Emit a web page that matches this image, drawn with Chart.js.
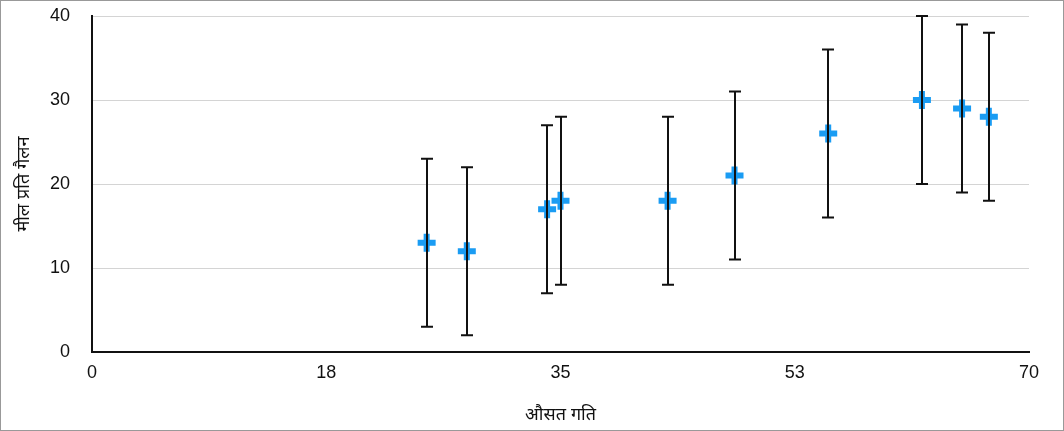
<!DOCTYPE html>
<html>
<head>
<meta charset="utf-8">
<script src="https://cdn.jsdelivr.net/npm/chart.js@4"></script>
<style>
  html, body { margin: 0; padding: 0; background: #fff; }
  #wrap { width: 1064px; height: 431px; box-sizing: border-box; border: 1px solid #999; }
  canvas { display: block; }
</style>
</head>
<body>
<div id="wrap"><canvas id="chart" width="1062" height="429"></canvas></div>
<script>
// Velocidad media vs millas por galón, con barras de error ±10
const speeds = [25, 28, 34, 35, 43, 48, 55, 62, 65, 67];
const mpg = [13, 12, 17, 18, 18, 21, 26, 30, 29, 28];
const errLow = [3, 2, 7, 8, 8, 11, 16, 20, 19, 18];
const errHigh = [23, 22, 27, 28, 28, 31, 36, 40, 39, 38];
const xTicks = [0, 17.5, 35, 52.5, 70];
const yTicks = [0, 10, 20, 30, 40];

const FONT = "'Liberation Sans', Arial, 'Noto Sans', sans-serif";

// barras de error verticales, dibujadas encima de los marcadores
const errorBars = {
  id: 'errorBars',
  afterDatasetsDraw(chart) {
    const { ctx, scales: { x, y } } = chart;
    ctx.save();
    ctx.strokeStyle = '#111';
    ctx.lineWidth = 2;
    speeds.forEach((s, i) => {
      const px = Math.round(x.getPixelForValue(s));
      const top = y.getPixelForValue(errHigh[i]);
      const bot = y.getPixelForValue(errLow[i]);
      ctx.beginPath();
      ctx.moveTo(px, top); ctx.lineTo(px, bot);
      ctx.moveTo(px - 6, top); ctx.lineTo(px + 6, top);
      ctx.moveTo(px - 6, bot); ctx.lineTo(px + 6, bot);
      ctx.stroke();
    });
    ctx.restore();
  },
};

new Chart(document.getElementById('chart'), {
  type: 'scatter',
  data: {
    datasets: [{
      data: speeds.map((s, i) => ({ x: s, y: mpg[i] })),
      pointStyle: 'cross',
      radius: 9,
      hoverRadius: 9,
      borderWidth: 6,
      borderColor: '#1a9cf3',
      backgroundColor: '#1a9cf3',
    }],
  },
  options: {
    responsive: false,
    animation: false,
    layout: { padding: { top: 14, right: 34, left: 0, bottom: 0 } },
    plugins: { legend: { display: false }, tooltip: { enabled: false } },
    scales: {
      x: {
        type: 'linear', min: 0, max: 70,
        afterBuildTicks: (s) => { s.ticks = xTicks.map(v => ({ value: v })); },
        afterFit: (s) => { s.height = 78; },
        ticks: { color: '#111', font: { family: FONT, size: 18 }, padding: 10, maxRotation: 0,
          callback: (v) => Math.round(v) },
        grid: { display: false, drawTicks: false },
        border: { display: true, color: '#111', width: 2 },
        title: { display: true, text: 'औसत गति', color: '#111', font: { family: FONT, size: 18 }, padding: { top: 6 } },
      },
      y: {
        type: 'linear', min: 0, max: 40,
        afterBuildTicks: (s) => { s.ticks = yTicks.map(v => ({ value: v })); },
        afterFit: (s) => { s.width = 91; s.paddingTop = 0; s.paddingBottom = 0; },
        ticks: { color: '#111', font: { family: FONT, size: 18 }, padding: 22 },
        grid: { color: '#d4d4d4', lineWidth: 1, drawTicks: false },
        border: { display: true, color: '#111', width: 2 },
        title: { display: true, text: 'मील प्रति गैलन', color: '#111', font: { family: FONT, size: 18 }, padding: { top: 12, bottom: 0 } },
      },
    },
  },
  plugins: [errorBars],
});
</script>
</body>
</html>
